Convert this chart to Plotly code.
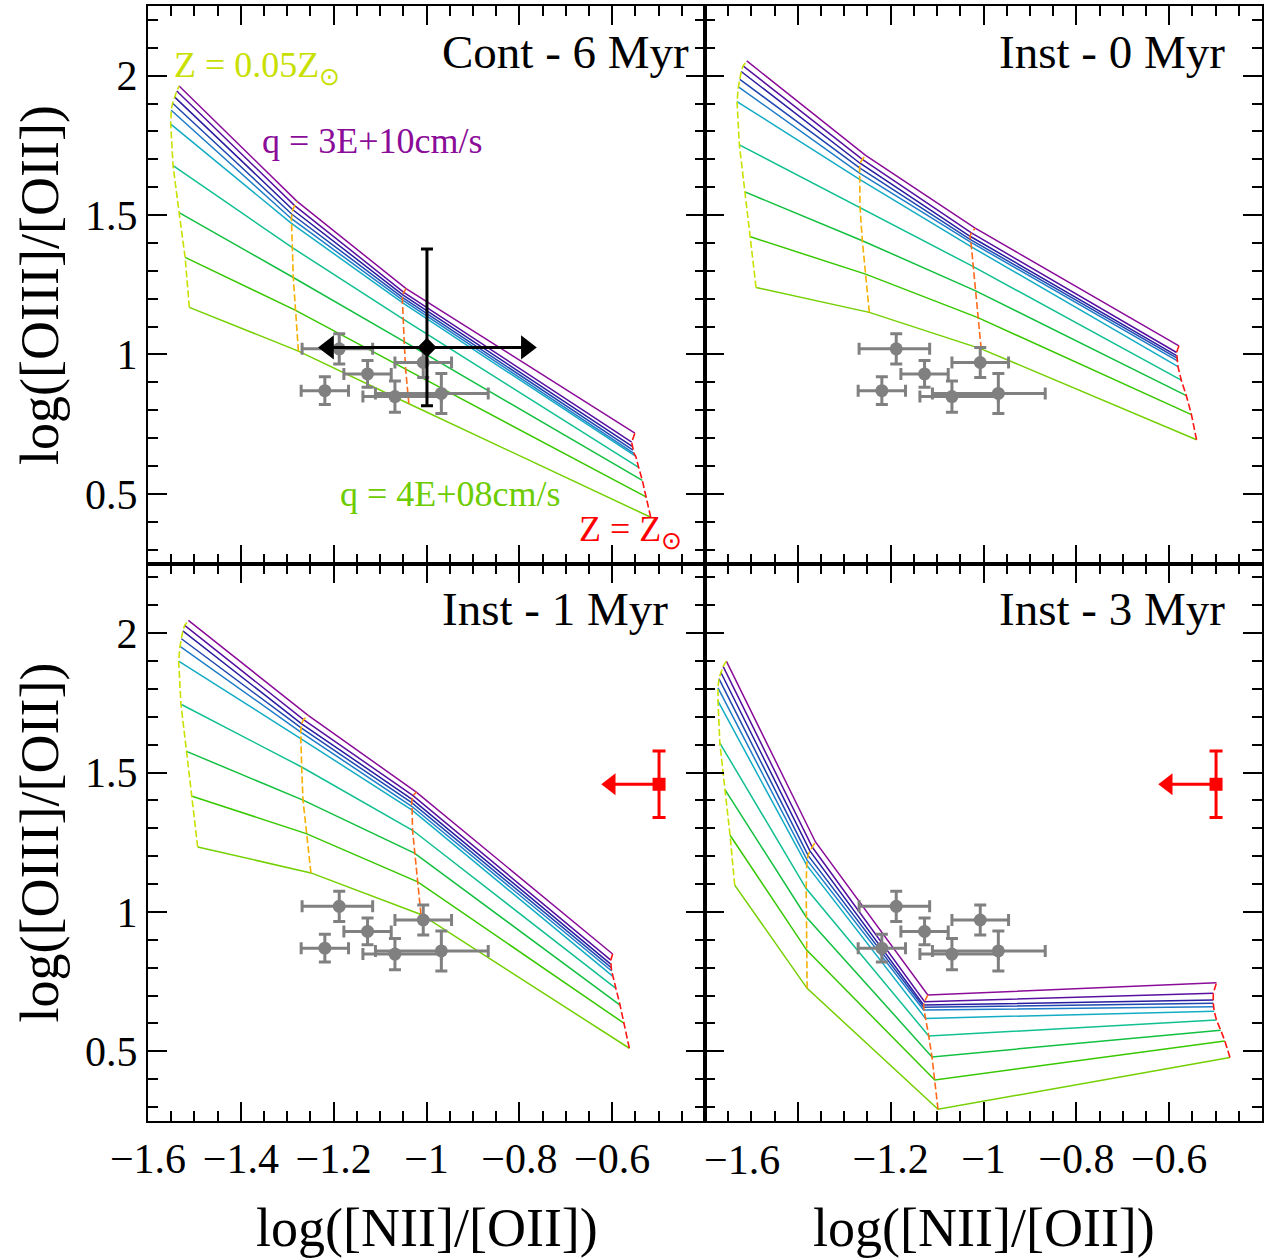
import plotly.graph_objects as go
from plotly.subplots import make_subplots

FONT = "Liberation Serif"

# ---------------- model grids (10 ionisation parameters x 4 metallicities) ----------------
Q_COLORS = ["#74d000", "#38c800", "#12c040", "#10c090", "#12acc4",
            "#1e7cc8", "#2048b0", "#2a1ca0", "#5810a0", "#8a0c98"]
Z_COLORS = ["#c8e000", "#f5b000", "#ff6a1a", "#ff1414"]

# Panel A : Cont - 6 Myr
A_Z1_x = [-1.511, -1.520, -1.533, -1.546, -1.551, -1.550, -1.547, -1.543, -1.538, -1.533]
A_Z1_y = [1.169, 1.348, 1.509, 1.677, 1.826, 1.876, 1.901, 1.924, 1.945, 1.963]
A_Z2_x = [-1.276, -1.283, -1.287, -1.289, -1.291, -1.291, -1.290, -1.288, -1.284, -1.279]
A_Z2_y = [1.012, 1.159, 1.276, 1.383, 1.470, 1.487, 1.503, 1.519, 1.534, 1.549]
A_Z3_x = [-1.038, -1.045, -1.048, -1.051, -1.052, -1.052, -1.052, -1.051, -1.049, -1.044]
A_Z3_y = [0.823, 0.947, 1.046, 1.128, 1.186, 1.196, 1.205, 1.214, 1.223, 1.236]
A_Z4_x = [-0.517, -0.526, -0.535, -0.543, -0.549, -0.553, -0.555, -0.556, -0.558, -0.551]
A_Z4_y = [0.416, 0.488, 0.548, 0.595, 0.634, 0.645, 0.657, 0.669, 0.685, 0.718]

# Panel B : Inst - 0 Myr
B_Z1_x = [-1.490, -1.502, -1.514, -1.526, -1.531, -1.528, -1.525, -1.522, -1.518, -1.510]
B_Z1_y = [1.240, 1.422, 1.583, 1.752, 1.907, 1.960, 1.987, 2.015, 2.035, 2.053]
B_Z2_x = [-1.246, -1.254, -1.261, -1.266, -1.267, -1.268, -1.267, -1.266, -1.261, -1.254]
B_Z2_y = [1.151, 1.288, 1.408, 1.528, 1.628, 1.651, 1.669, 1.686, 1.700, 1.714]
B_Z3_x = [-1.005, -1.012, -1.018, -1.022, -1.026, -1.027, -1.029, -1.029, -1.026, -1.018]
B_Z3_y = [1.020, 1.132, 1.229, 1.315, 1.386, 1.402, 1.413, 1.424, 1.436, 1.453]
B_Z4_x = [-0.541, -0.552, -0.563, -0.574, -0.581, -0.583, -0.583, -0.584, -0.584, -0.579]
B_Z4_y = [0.694, 0.784, 0.852, 0.908, 0.956, 0.978, 0.987, 0.996, 1.007, 1.031]

# Panel C : Inst - 1 Myr
C_Z1_x = [-1.493, -1.505, -1.517, -1.529, -1.534, -1.531, -1.528, -1.525, -1.521, -1.513]
C_Z1_y = [1.233, 1.415, 1.576, 1.745, 1.900, 1.953, 1.980, 2.008, 2.028, 2.046]
C_Z2_x = [-1.249, -1.259, -1.266, -1.269, -1.271, -1.271, -1.270, -1.269, -1.265, -1.255]
C_Z2_y = [1.140, 1.281, 1.401, 1.520, 1.622, 1.645, 1.660, 1.675, 1.690, 1.705]
C_Z3_x = [-1.012, -1.019, -1.026, -1.030, -1.031, -1.032, -1.032, -1.031, -1.029, -1.022]
C_Z3_y = [0.991, 1.108, 1.211, 1.293, 1.365, 1.379, 1.392, 1.404, 1.417, 1.430]
C_Z4_x = [-0.563, -0.574, -0.583, -0.592, -0.599, -0.601, -0.602, -0.603, -0.603, -0.599]
C_Z4_y = [0.511, 0.600, 0.666, 0.726, 0.770, 0.788, 0.800, 0.813, 0.827, 0.849]

# Panel D : Inst - 3 Myr
D_Z1_x = [-1.536, -1.546, -1.557, -1.568, -1.572, -1.572, -1.570, -1.566, -1.561, -1.554]
D_Z1_y = [1.096, 1.275, 1.439, 1.606, 1.756, 1.804, 1.837, 1.860, 1.881, 1.900]
D_Z2_x = [-1.380, -1.381, -1.382, -1.382, -1.381, -1.380, -1.378, -1.374, -1.369, -1.362]
D_Z2_y = [0.726, 0.863, 0.982, 1.084, 1.168, 1.186, 1.203, 1.219, 1.233, 1.251]
D_Z3_x = [-1.098, -1.105, -1.111, -1.118, -1.125, -1.129, -1.129, -1.129, -1.127, -1.120]
D_Z3_y = [0.292, 0.397, 0.480, 0.555, 0.618, 0.648, 0.658, 0.666, 0.678, 0.702]
D_Z4_x = [-0.469, -0.480, -0.489, -0.498, -0.503, -0.505, -0.505, -0.505, -0.505, -0.498]
D_Z4_y = [0.478, 0.537, 0.576, 0.612, 0.644, 0.660, 0.672, 0.684, 0.708, 0.746]

PANEL_TITLES = ["Cont - 6 Myr", "Inst - 0 Myr", "Inst - 1 Myr", "Inst - 3 Myr"]

# ---------------- observed points ----------------
OBS_x = [-1.188, -1.127, -1.007, -1.219, -1.068, -0.968]
OBS_y = [1.020, 0.930, 0.971, 0.870, 0.849, 0.860]
OBS_xerr_plus = [0.072, 0.051, 0.061, 0.051, 0.100, 0.101]
OBS_xerr_minus = [0.080, 0.051, 0.061, 0.051, 0.069, 0.142]
OBS_yerr = [0.054, 0.048, 0.054, 0.050, 0.056, 0.072]

BLACK_x = [-0.999]
BLACK_y = [1.025]
BLACK_yerr_plus = [0.353]
BLACK_yerr_minus = [0.209]
BLACK_arrow_x = [-1.211, -0.785]   # arrow-head centres of the x limits

RED_x = [-0.499]
RED_y = [1.458]
RED_yerr = [0.119]
RED_arrow_x = [-0.603]             # arrow-head centre of the upper limit

X_TICKS = [-1.6, -1.4, -1.2, -1.0, -0.8, -0.6]
X_TICKTEXT = ["−1.6", "−1.4", "−1.2", "−1", "−0.8", "−0.6"]
Y_TICKS = [0.5, 1.0, 1.5, 2.0]
Y_TICKTEXT = ["0.5", "1", "1.5", "2"]

fig = make_subplots(rows=2, cols=2, horizontal_spacing=0, vertical_spacing=0)

panels = [
    (1, 1, [A_Z1_x, A_Z2_x, A_Z3_x, A_Z4_x], [A_Z1_y, A_Z2_y, A_Z3_y, A_Z4_y]),
    (1, 2, [B_Z1_x, B_Z2_x, B_Z3_x, B_Z4_x], [B_Z1_y, B_Z2_y, B_Z3_y, B_Z4_y]),
    (2, 1, [C_Z1_x, C_Z2_x, C_Z3_x, C_Z4_x], [C_Z1_y, C_Z2_y, C_Z3_y, C_Z4_y]),
    (2, 2, [D_Z1_x, D_Z2_x, D_Z3_x, D_Z4_x], [D_Z1_y, D_Z2_y, D_Z3_y, D_Z4_y]),
]

for r, c, zx, zy in panels:
    nq = len(zx[0])
    for q in range(nq):
        fig.add_trace(go.Scatter(x=[zx[k][q] for k in range(4)], y=[zy[k][q] for k in range(4)],
                                 mode="lines", line=dict(color=Q_COLORS[q], width=1.5),
                                 showlegend=False, hoverinfo="skip"), row=r, col=c)
    for k in range(4):
        fig.add_trace(go.Scatter(x=zx[k], y=zy[k], mode="lines",
                                 line=dict(color=Z_COLORS[k], width=1.6, dash="7px,3px"),
                                 showlegend=False, hoverinfo="skip"), row=r, col=c)
    # observed points
    fig.add_trace(go.Scatter(x=OBS_x, y=OBS_y, mode="markers",
                             marker=dict(color="#808080", size=13),
                             error_x=dict(type="data", array=OBS_xerr_plus, arrayminus=OBS_xerr_minus,
                                          color="#808080", thickness=3, width=6),
                             error_y=dict(type="data", array=OBS_yerr, color="#808080", thickness=3, width=6),
                             showlegend=False), row=r, col=c)

# black point (top-left)
fig.add_trace(go.Scatter(x=BLACK_arrow_x, y=BLACK_y * 2, mode="lines",
                         line=dict(color="black", width=3), showlegend=False), row=1, col=1)
fig.add_trace(go.Scatter(x=BLACK_arrow_x, y=BLACK_y * 2, mode="markers",
                         marker=dict(color="black", size=21, symbol=["triangle-left", "triangle-right"]),
                         showlegend=False), row=1, col=1)
fig.add_trace(go.Scatter(x=BLACK_x, y=BLACK_y, mode="markers",
                         marker=dict(color="black", size=15, symbol="diamond"),
                         error_y=dict(type="data", array=BLACK_yerr_plus, arrayminus=BLACK_yerr_minus,
                                      color="black", thickness=3, width=6),
                         showlegend=False), row=1, col=1)

# red point (bottom panels)
for c in (1, 2):
    fig.add_trace(go.Scatter(x=RED_arrow_x + RED_x, y=RED_y * 2, mode="lines",
                             line=dict(color="#ff0000", width=3), showlegend=False), row=2, col=c)
    fig.add_trace(go.Scatter(x=RED_arrow_x, y=RED_y, mode="markers",
                             marker=dict(color="#ff0000", size=19, symbol="triangle-left"),
                             showlegend=False), row=2, col=c)
    fig.add_trace(go.Scatter(x=RED_x, y=RED_y, mode="markers",
                             marker=dict(color="#ff0000", size=13, symbol="square"),
                             error_y=dict(type="data", array=RED_yerr, color="#ff0000", thickness=3, width=6.5),
                             showlegend=False), row=2, col=c)

axis_common = dict(showline=True, linecolor="black", linewidth=2, mirror="ticks",
                   ticks="inside", ticklen=19, tickwidth=1.5, tickcolor="black",
                   showgrid=False, zeroline=False,
                   tickfont=dict(family=FONT, size=42, color="black"))

for r in (1, 2):
    for c in (1, 2):
        if r == 2 and c == 2:
            tt = [" ", " "] + X_TICKTEXT[2:]
        else:
            tt = X_TICKTEXT
        fig.update_xaxes(range=[-1.6, -0.4], tickmode="array", tickvals=X_TICKS,
                         ticktext=tt, showticklabels=(r == 2),
                         minor=dict(ticks="inside", ticklen=10, tickwidth=1.5, tickcolor="black",
                                    tickmode="linear", tick0=-1.6, dtick=0.05),
                         row=r, col=c, **axis_common)
        fig.update_yaxes(range=[0.25, 2.25], tickmode="array", tickvals=Y_TICKS,
                         ticktext=Y_TICKTEXT, showticklabels=(c == 1),
                         minor=dict(ticks="inside", ticklen=10, tickwidth=1.5, tickcolor="black",
                                    tickmode="linear", tick0=0, dtick=0.1),
                         row=r, col=c, **axis_common)

ann = []
axrefs = [("x", "y"), ("x2", "y2"), ("x3", "y3"), ("x4", "y4")]
for (xr, yr), t in zip(axrefs, PANEL_TITLES):
    ann.append(dict(x=-0.97, y=2.085, xref=xr, yref=yr, text=t, showarrow=False,
                    xanchor="left", yanchor="middle", font=dict(family=FONT, size=47, color="black")))

ann += [
    dict(x=-1.548, y=2.03, xref="x", yref="y", text="Z = 0.05Z<sub>⊙</sub>", showarrow=False,
         xanchor="left", yanchor="middle", font=dict(family=FONT, size=36, color="#c8e000")),
    dict(x=-1.359, y=1.766, xref="x", yref="y", text="q = 3E+10cm/s", showarrow=False,
         xanchor="left", yanchor="middle", font=dict(family=FONT, size=36, color="#8a0c98")),
    dict(x=-1.191, y=0.501, xref="x", yref="y", text="q = 4E+08cm/s", showarrow=False,
         xanchor="left", yanchor="middle", font=dict(family=FONT, size=36, color="#6ccc00")),
    dict(x=-0.675, y=0.365, xref="x", yref="y", text="Z = Z<sub>⊙</sub>", showarrow=False,
         xanchor="left", yanchor="middle", font=dict(family=FONT, size=36, color="#ff0000")),
    # tick label shifted away from the panel join
    dict(x=-1.52, y=-0.035, xref="x4", yref="paper", text="−1.6", showarrow=False,
         xanchor="center", yanchor="middle", font=dict(family=FONT, size=42, color="black")),
    # axis titles
    dict(x=-0.0968, y=0.75, xref="paper", yref="paper", text="log([OIII]/[OII])", showarrow=False,
         textangle=-90, xanchor="center", yanchor="middle", font=dict(family=FONT, size=54, color="black")),
    dict(x=-0.0968, y=0.25, xref="paper", yref="paper", text="log([OIII]/[OII])", showarrow=False,
         textangle=-90, xanchor="center", yanchor="middle", font=dict(family=FONT, size=54, color="black")),
    dict(x=0.25, y=-0.0959, xref="paper", yref="paper", text="log([NII]/[OII])", showarrow=False,
         xanchor="center", yanchor="middle", font=dict(family=FONT, size=54, color="black")),
    dict(x=0.75, y=-0.0959, xref="paper", yref="paper", text="log([NII]/[OII])", showarrow=False,
         xanchor="center", yanchor="middle", font=dict(family=FONT, size=54, color="black")),
]

fig.update_layout(width=1268, height=1259, margin=dict(l=148, r=4, t=5, b=138),
                  paper_bgcolor="white", plot_bgcolor="white", annotations=ann,
                  font=dict(family=FONT, color="black"), showlegend=False)

fig.write_html("out.html", config={"displayModeBar": False},
               post_script="document.body.style.margin='0px';document.body.style.overflow='hidden';")
